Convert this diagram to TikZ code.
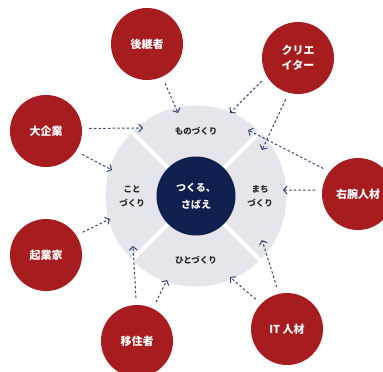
\documentclass[tikz,border=0pt]{standalone}
\usepackage{fontspec}
\setmainfont{Noto Sans CJK JP}
\usetikzlibrary{arrows.meta, positioning}
\definecolor{sabaered}{HTML}{A61C1F}
\definecolor{sabaenavy}{HTML}{0F1F4E}
\definecolor{ringgray}{HTML}{E4E6EC}
\definecolor{arrowblue}{HTML}{34466F}

\begin{document}
\begin{tikzpicture}[x=1pt, y=-1pt,
    every node/.style={font=\fontsize{9}{14}\selectfont},
    actor/.style={circle, fill=sabaered, text=white, minimum size=72pt,
                  inner sep=0pt, align=center,
                  font=\fontsize{11}{14.5}\selectfont\bfseries},
    arr/.style={-{Straight Barb[length=3.5pt, width=8pt, line width=1pt]},
                line width=1pt, draw=arrowblue,
                dash pattern=on 2.5pt off 2.2pt, shorten <=7pt},
    lbl/.style={align=center, text=black!85,
                font=\fontsize{8.5}{14}\selectfont\bfseries}
]
    \useasboundingbox (0,0) rectangle (383,372);

    % ring with four sectors
    \node[circle, fill=ringgray, minimum size=181pt, inner sep=0pt] (ring) at (196,196) {};
    \foreach \a in {45,135,225,315}
        \draw[white, line width=4pt] (ring.center) -- (ring.\a);
    \node[circle, fill=sabaenavy, text=white, minimum size=79pt, inner sep=0pt,
          align=center, font=\fontsize{10}{17}\selectfont\bfseries]
          (hub) at (196,196) {つくる、\\さばえ};

    \node[lbl] (mono) at (196,131) {ものづくり};
    \node[lbl] (koto) at (132,196) {こと\\づくり};
    \node[lbl] (machi) at (260,196) {まち\\づくり};
    \node[lbl] (hito) at (196,260) {ひとづくり};

    % actors
    \node[actor] (heir)    at (147,44)  {後継者};
    \node[actor] (creator) at (298,58)  {クリエ\\イター};
    \node[actor] (corp)    at (46,131)  {大企業};
    \node[actor] (founder) at (46,255)  {起業家};
    \node[actor] (aide)    at (358,194) {右腕人材};
    \node[actor] (settler) at (137,341) {移住者};
    \node[actor] (itpro)   at (287,329) {IT 人材};

    % arrow ends
    \coordinate (m1) at (178,113);
    \coordinate (m2) at (230,113);
    \coordinate (m3) at (248,130);
    \coordinate (m4) at (143,128);
    \coordinate (c1) at (262,150);
    \coordinate (c2) at (283,190);
    \coordinate (c3) at (262,240);
    \coordinate (h1) at (230,277);
    \coordinate (h2) at (167,280);
    \coordinate (k1) at (133,246);
    \coordinate (k2) at (110,219);
    \coordinate (k3) at (112,170);

    \draw[arr] (heir.-65) -- (m1);
    \draw[arr] (creator.-150) -- (m2);
    \draw[arr] (creator.-105) -- (c1);
    \draw[arr] (aide.142) -- (m3);
    \draw[arr] (aide.174) -- (c2);
    \draw[arr] (itpro.103) -- (c3);
    \draw[arr] (itpro.136) -- (h1);
    \draw[arr] (settler.64) -- (h2);
    \draw[arr] (settler.91) -- (k1);
    \draw[arr] (founder.33) -- (k2);
    \draw[arr] (corp.-34) -- (k3);
    \draw[arr] (corp.4) -- (m4);
\end{tikzpicture}
\end{document}
